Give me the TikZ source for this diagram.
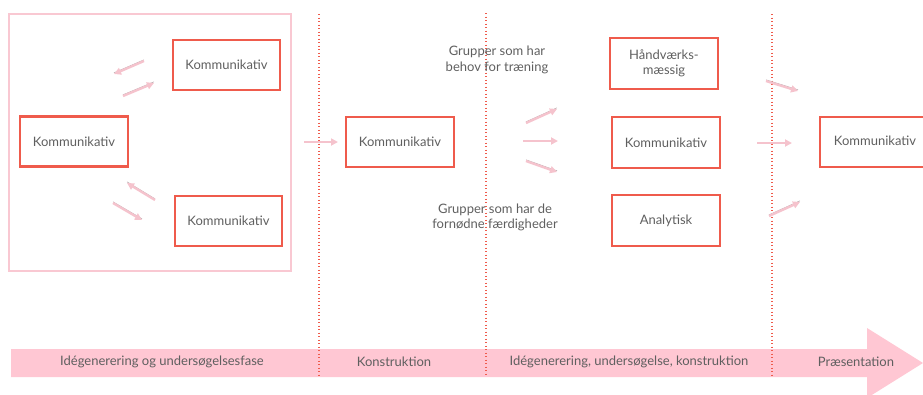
\documentclass[tikz,border=0pt]{standalone}
\usepackage{fontspec}
\setmainfont{Lato}
\usetikzlibrary{arrows.meta}
\definecolor{boxred}{HTML}{EF5B4C}
\definecolor{framepink}{HTML}{F9C8D2}
\definecolor{bandpink}{HTML}{FFC7D3}
\definecolor{arrowpink}{HTML}{F5C3CD}
\definecolor{txt}{HTML}{5F5F5F}
\definecolor{shadow}{HTML}{B8A8AC}
\tikzset{
  redbox/.style={draw=boxred, line width=2.6pt, text=txt, font=\fontsize{13}{15}\selectfont, align=center, inner sep=0pt},
  pinkarrow/.style={draw=arrowpink, line width=2.4pt, -{Triangle[length=7pt,width=7pt]}, shorten >=0pt},
  shadowline/.style={draw=shadow, line width=0.6pt},
  divider/.style={draw=boxred, line width=2pt, dash pattern=on 1.3pt off 2.2pt},
  lbl/.style={text=txt, font=\fontsize{13}{15.5}\selectfont, align=center, inner sep=0pt},
}
\newcommand{\parrow}[2]{%
  \draw[shadowline] ([yshift=1.2pt]#1) -- ([yshift=1.2pt]#2);
  \draw[pinkarrow] (#1) -- (#2);}
\begin{document}
\begin{tikzpicture}[x=1pt,y=-1pt]
\useasboundingbox (0,0) rectangle (923,394);
\clip (0,0) rectangle (923,394);
% band arrow
\fill[bandpink] (11,349) -- (867,349) -- (867,328) -- (923,363) -- (867,398) -- (867,377) -- (11,377) -- cycle;
\node[lbl] (l1) at (162,362) {Idégenerering og undersøgelsesfase};
\node[lbl] (l2) at (394,362) {Konstruktion};
\node[lbl] (l3) at (629,362) {Idégenerering, undersøgelse, konstruktion};
\node[lbl] (l4) at (856,362) {Præsentation};
% dividers
\coordinate (d1t) at (319,14); \coordinate (d1b) at (319,375);
\coordinate (d2t) at (486,13); \coordinate (d2b) at (486,375);
\coordinate (d3t) at (772,14); \coordinate (d3b) at (772,375);
\draw[divider] (d1t) -- (d1b);
\draw[divider] (d2t) -- (d2b);
\draw[divider] (d3t) -- (d3b);
% frame
\draw[framepink, line width=2pt] (9,14) rectangle (291,271);
% boxes
\node[redbox, minimum width=108pt, minimum height=50pt] (A) at (74,141.5) {Kommunikativ};
\node[redbox, minimum width=107pt, minimum height=50pt] (B) at (226.5,65) {Kommunikativ};
\node[redbox, minimum width=107pt, minimum height=50pt] (C) at (228.5,221) {Kommunikativ};
\node[redbox, minimum width=108pt, minimum height=50pt] (D) at (400,142) {Kommunikativ};
\node[redbox, minimum width=108pt, minimum height=51pt] (E) at (664,63.5) {Håndværks-\\mæssig};
\node[redbox, minimum width=108pt, minimum height=51pt] (F) at (666,142.5) {Kommunikativ};
\node[redbox, minimum width=108pt, minimum height=51pt] (G) at (666,220.5) {Analytisk};
\draw[boxred, line width=2.6pt] (930,117) -- (820,117) -- (820,167) -- (930,167);
\node[lbl] (H) at (875,141) {Kommunikativ};
% texts
\node[lbl] (t1) at (497,60) {Grupper som har\\behov for træning};
\node[lbl] (t2) at (495,217.5) {Grupper som har de\\fornødne færdigheder};
% arrows
\coordinate (a1s) at (144,61); \coordinate (a1e) at (114,74);
\coordinate (a2s) at (123,96); \coordinate (a2e) at (154,83);
\coordinate (a3s) at (155,200); \coordinate (a3e) at (127,183);
\coordinate (a4s) at (113,203); \coordinate (a4e) at (142,220);
\coordinate (a5s) at (304,142); \coordinate (a5e) at (338,142);
\coordinate (a6s) at (526,123); \coordinate (a6e) at (557,109);
\coordinate (a7s) at (523,141); \coordinate (a7e) at (558,141);
\coordinate (a8s) at (526,161); \coordinate (a8e) at (557,172);
\coordinate (a9s) at (766,81); \coordinate (a9e) at (798,91);
\coordinate (a10s) at (757,143); \coordinate (a10e) at (792,143);
\coordinate (a11s) at (769,216); \coordinate (a11e) at (800,202);
\parrow{a1s}{a1e}
\parrow{a2s}{a2e}
\parrow{a3s}{a3e}
\parrow{a4s}{a4e}
\draw[pinkarrow] (a5s) -- (a5e);
\parrow{a6s}{a6e}
\draw[pinkarrow] (a7s) -- (a7e);
\parrow{a8s}{a8e}
\parrow{a9s}{a9e}
\draw[pinkarrow] (a10s) -- (a10e);
\parrow{a11s}{a11e}
\end{tikzpicture}
\end{document}
